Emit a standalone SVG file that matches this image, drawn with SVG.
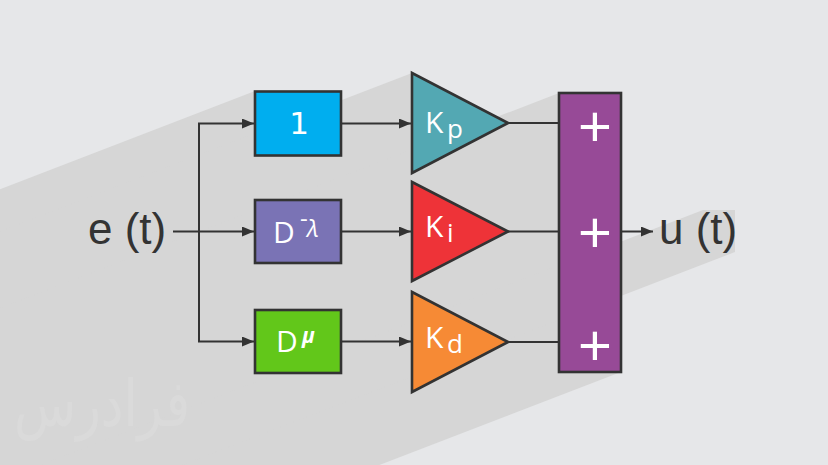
<svg xmlns="http://www.w3.org/2000/svg" width="828" height="465" viewBox="0 0 828 465">
<defs>
<style>
.shadow{fill:#d6d6d6}
.blk{stroke:#333;stroke-width:2.6}
.wire{stroke:#333;stroke-width:2;fill:none}
.lbl{font-family:"Open Sans","DejaVu Sans",sans-serif;fill:#fff}
.big{font-family:"Liberation Sans",Arial,sans-serif;font-size:44px;fill:#333}
.plus{font-family:"Liberation Sans",Arial,sans-serif;font-size:58px;fill:#fff;text-anchor:middle}
</style>
<marker id="arr" markerUnits="userSpaceOnUse" markerWidth="12" markerHeight="10" refX="12" refY="5" orient="auto">
<path d="M0,0 L12,5 L0,10 z" fill="#333"/>
</marker>
</defs>
<rect width="828" height="465" fill="#e6e7e9"/>
<g id="shadows">
<polygon class="shadow" points="255,91 341,91 341,156 -859,618 -945,553"/>
<polygon class="shadow" points="255,200 341,200 341,263 -859,725 -945,662"/>
<polygon class="shadow" points="255,310 341,310 341,373 -859,835 -945,772"/>
<polygon class="shadow" points="412,73 508,123 412,173 -788,635 -788,535"/>
<polygon class="shadow" points="412,182 508,231 412,281 -788,743 -788,644"/>
<polygon class="shadow" points="412,292 508,342 412,392 -788,854 -788,754"/>
<polygon class="shadow" points="559,93 621,93 621,372 -579,834 -641,555"/>
<polygon class="shadow" points="703,210 735,210 735,252 -465,714 -497,672"/>
</g>
<text x="102" y="426" text-anchor="middle" font-family="'DejaVu Sans',sans-serif" font-size="64" fill="#dadada" textLength="176" lengthAdjust="spacingAndGlyphs">فرادرس</text>
<g id="connectors">
<line class="wire" x1="173" y1="231.5" x2="254" y2="231.5" marker-end="url(#arr)"/>
<line class="wire" x1="199" y1="123.5" x2="199" y2="341.5"/>
<line class="wire" x1="198" y1="123.5" x2="254" y2="123.5" marker-end="url(#arr)"/>
<line class="wire" x1="198" y1="341.5" x2="254" y2="341.5" marker-end="url(#arr)"/>
<line class="wire" x1="341" y1="123.5" x2="411" y2="123.5" marker-end="url(#arr)"/>
<line class="wire" x1="341" y1="231.5" x2="411" y2="231.5" marker-end="url(#arr)"/>
<line class="wire" x1="341" y1="341.5" x2="411" y2="341.5" marker-end="url(#arr)"/>
<line class="wire" x1="508" y1="123" x2="559" y2="123"/>
<line class="wire" x1="508" y1="231.5" x2="559" y2="231.5"/>
<line class="wire" x1="508" y1="342" x2="559" y2="342"/>
<line class="wire" x1="621" y1="231.5" x2="653" y2="231.5" marker-end="url(#arr)"/>
</g>
<g id="input"><text class="big" x="88" y="244">e (t)</text></g>
<g id="output"><text class="big" x="659" y="244">u (t)</text></g>
<g id="box1">
<rect class="blk" x="255" y="91.5" width="86" height="64" fill="#00aeef"/>
<text x="299" y="134" text-anchor="middle" font-family="'DejaVu Sans',sans-serif" font-size="31" fill="#fff">1</text>
</g>
<g id="box2">
<rect class="blk" x="255" y="200" width="86" height="63" fill="#7a73b5"/>
<text class="lbl" x="273" y="243" font-size="30">D</text>
<text class="lbl" x="300" y="227" font-size="24">-</text>
<text class="lbl" x="307" y="237" font-size="24" font-style="italic" font-family="'DejaVu Sans',sans-serif">λ</text>
</g>
<g id="box3">
<rect class="blk" x="255" y="310" width="86" height="63" fill="#62c71a"/>
<text class="lbl" x="276" y="352" font-size="30">D</text>
<text class="lbl" x="302" y="343" font-size="21" font-style="italic" font-weight="bold" font-family="'DejaVu Sans',sans-serif">μ</text>
</g>
<g id="kp">
<polygon class="blk" points="412,73 508,123 412,173" fill="#53a8b3"/>
<text class="lbl" x="425" y="133" font-size="30">K<tspan x="447" y="138" font-size="26">p</tspan></text>
</g>
<g id="ki">
<polygon class="blk" points="412,182 508,231.5 412,281" fill="#ee3338"/>
<text class="lbl" x="425" y="237" font-size="30">K<tspan x="447" y="242" font-size="26">i</tspan></text>
</g>
<g id="kd">
<polygon class="blk" points="412,292 508,342 412,392" fill="#f68a35"/>
<text class="lbl" x="425" y="348" font-size="30">K<tspan x="447" y="353" font-size="26">d</tspan></text>
</g>
<g id="sum">
<rect class="blk" x="559" y="93" width="62" height="279" fill="#974a97"/>
<text class="plus" x="595" y="145.5">+</text>
<text class="plus" x="595" y="252">+</text>
<text class="plus" x="595" y="364.5">+</text>
</g>
</svg>
